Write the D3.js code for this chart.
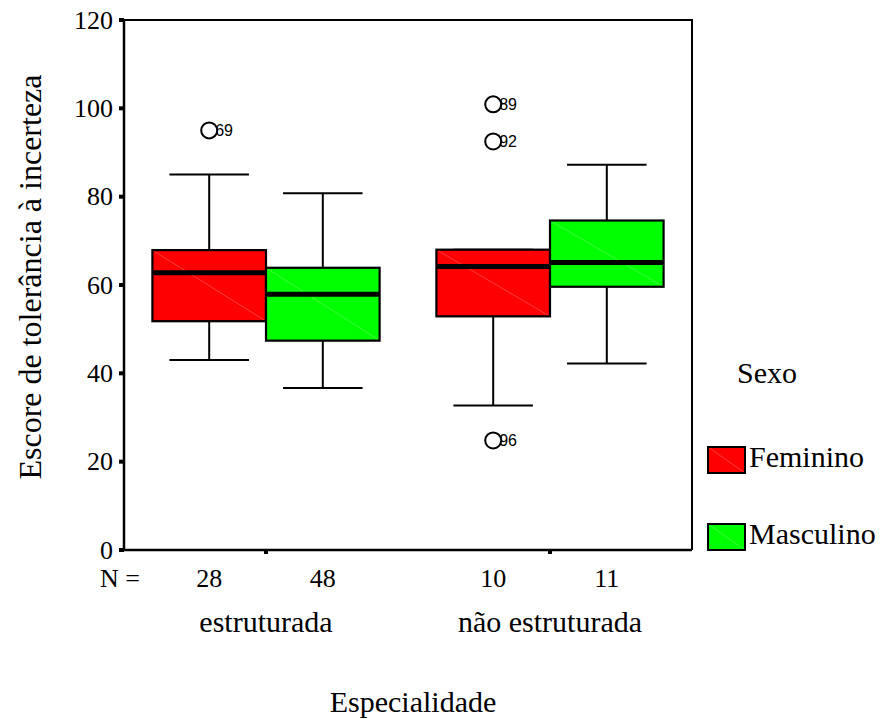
<!DOCTYPE html>
<html>
<head>
<meta charset="utf-8">
<script src="https://cdn.jsdelivr.net/npm/d3@7"></script>
<style>
  body { margin: 0; background: #fff; }
  svg { display: block; }
</style>
</head>
<body>
<div id="chart"></div>
<script>
// data
const categories = ['estruturada', 'não estruturada'];
const groups = ['Feminino', 'Masculino'];
const colors = ['#ff0000', '#00ff00'];
const boxCategory = ['estruturada', 'estruturada', 'não estruturada', 'não estruturada'];
const boxGroup = ['Feminino', 'Masculino', 'Feminino', 'Masculino'];
const counts = [28, 48, 10, 11];
const whiskerLow = [43, 36.7, 32.7, 42.2];
const q1 = [51.8, 47.4, 52.9, 59.6];
const median = [62.8, 57.9, 64.2, 65.1];
const q3 = [67.9, 63.9, 68, 74.6];
const whiskerHigh = [85, 80.8, 68, 87.2];
const outlierBox = [0, 2, 2, 2];
const outlierValue = [95, 100.9, 92.5, 24.8];
const outlierLabel = ['69', '89', '92', '96'];
const yTicks = [0, 20, 40, 60, 80, 100, 120];

const W = 885, H = 719;
const serif = '"Liberation Serif", "Times New Roman", serif';

const svg = d3.select('#chart').append('svg')
  .attr('width', W)
  .attr('height', H);

const x = d3.scaleBand().domain(categories).range([124, 692]);
const inner = d3.scaleBand().domain(groups).range([0.1 * x.bandwidth(), 0.9 * x.bandwidth()]);
const y = d3.scaleLinear().domain([0, 120]).range([550, 20]);
const bw = inner.bandwidth();

function txt(g, px, py, s, size, anchor, family) {
  return g.append('text')
    .attr('x', px)
    .attr('y', py)
    .attr('text-anchor', anchor)
    .attr('font-family', family || serif)
    .attr('font-size', size)
    .attr('fill', '#000')
    .text(s);
}

// frame (top + right)
svg.append('path')
  .attr('d', `M${x.range()[0]},${y(120)}H${x.range()[1]}V${y(0)}`)
  .attr('fill', 'none')
  .attr('stroke', '#000')
  .attr('stroke-width', 2);

// boxes
const boxes = svg.append('g');
counts.forEach((n, i) => {
  const x0 = x(boxCategory[i]) + inner(boxGroup[i]);
  const cx = x0 + bw / 2;
  const cap = bw * 0.35;
  const g = boxes.append('g');

  // whiskers
  g.append('line')
    .attr('x1', cx).attr('x2', cx)
    .attr('y1', y(whiskerHigh[i])).attr('y2', y(q3[i]))
    .attr('stroke', '#000').attr('stroke-width', 2);
  g.append('line')
    .attr('x1', cx).attr('x2', cx)
    .attr('y1', y(q1[i])).attr('y2', y(whiskerLow[i]))
    .attr('stroke', '#000').attr('stroke-width', 2);
  [whiskerHigh[i], whiskerLow[i]].forEach(v => {
    g.append('line')
      .attr('x1', cx - cap).attr('x2', cx + cap)
      .attr('y1', y(v)).attr('y2', y(v))
      .attr('stroke', '#000').attr('stroke-width', 2);
  });

  // box
  const col = colors[groups.indexOf(boxGroup[i])];
  g.append('rect')
    .attr('x', x0).attr('y', y(q3[i]))
    .attr('width', bw).attr('height', y(q1[i]) - y(q3[i]))
    .attr('fill', col);
  // faint diagonal like in the original rendering
  g.append('line')
    .attr('x1', x0).attr('y1', y(q3[i]))
    .attr('x2', x0 + bw).attr('y2', y(q1[i]))
    .attr('stroke', '#fff').attr('stroke-opacity', 0.3).attr('stroke-width', 0.8);
  g.append('rect')
    .attr('x', x0).attr('y', y(q3[i]))
    .attr('width', bw).attr('height', y(q1[i]) - y(q3[i]))
    .attr('fill', 'none')
    .attr('stroke', '#000').attr('stroke-width', 2.2);

  // median
  g.append('line')
    .attr('x1', x0).attr('x2', x0 + bw)
    .attr('y1', y(median[i])).attr('y2', y(median[i]))
    .attr('stroke', '#000').attr('stroke-width', 5);

  // N
  txt(svg, cx, 587, n, 26, 'middle');
});

// outliers
outlierValue.forEach((v, j) => {
  const b = outlierBox[j];
  const cx = x(boxCategory[b]) + inner(boxGroup[b]) + bw / 2;
  txt(svg, cx + 6, y(v) + 5.5, outlierLabel[j], 16, 'start', '"Liberation Sans", Arial, sans-serif');
  svg.append('circle')
    .attr('cx', cx).attr('cy', y(v)).attr('r', 8)
    .attr('fill', '#fff')
    .attr('stroke', '#000').attr('stroke-width', 2);
});

// left axis
svg.append('line')
  .attr('x1', x.range()[0]).attr('x2', x.range()[0])
  .attr('y1', y(120)).attr('y2', y(0))
  .attr('stroke', '#000').attr('stroke-width', 2.5);
yTicks.forEach(t => {
  svg.append('rect')
    .attr('x', x.range()[0] - 5).attr('y', y(t) - 2)
    .attr('width', 5).attr('height', 4)
    .attr('fill', '#000');
  txt(svg, 113, y(t) + 8.5, t, 26, 'end');
});

// bottom axis
svg.append('line')
  .attr('x1', x.range()[0] - 1).attr('x2', x.range()[1])
  .attr('y1', y(0)).attr('y2', y(0))
  .attr('stroke', '#000').attr('stroke-width', 2.5);
categories.forEach(c => {
  const cx = x(c) + x.bandwidth() / 2;
  svg.append('rect')
    .attr('x', cx - 2).attr('y', y(0))
    .attr('width', 4).attr('height', 4)
    .attr('fill', '#000');
  txt(svg, cx, 632, c, 30, 'middle');
});

txt(svg, 100, 587, 'N =', 26, 'start');

// axis titles
txt(svg, 413, 712, 'Especialidade', 30, 'middle');
svg.append('text')
  .attr('transform', `translate(41,277) rotate(-90)`)
  .attr('text-anchor', 'middle')
  .attr('font-family', serif)
  .attr('font-size', 32)
  .text('Escore de tolerância à incerteza');

// legend
txt(svg, 767, 383, 'Sexo', 30, 'middle');
const legend = svg.append('g').attr('transform', 'translate(708,447)');
groups.forEach((gname, i) => {
  const gy = i * 77;
  legend.append('rect')
    .attr('x', 0).attr('y', gy)
    .attr('width', 37).attr('height', 26)
    .attr('fill', colors[i]);
  legend.append('line')
    .attr('x1', 0).attr('y1', gy).attr('x2', 37).attr('y2', gy + 26)
    .attr('stroke', '#fff').attr('stroke-opacity', 0.3).attr('stroke-width', 0.8);
  legend.append('rect')
    .attr('x', 0).attr('y', gy)
    .attr('width', 37).attr('height', 26)
    .attr('fill', 'none')
    .attr('stroke', '#000').attr('stroke-width', 2);
  txt(legend, 41, gy + 20, gname, 30, 'start');
});
</script>
</body>
</html>
